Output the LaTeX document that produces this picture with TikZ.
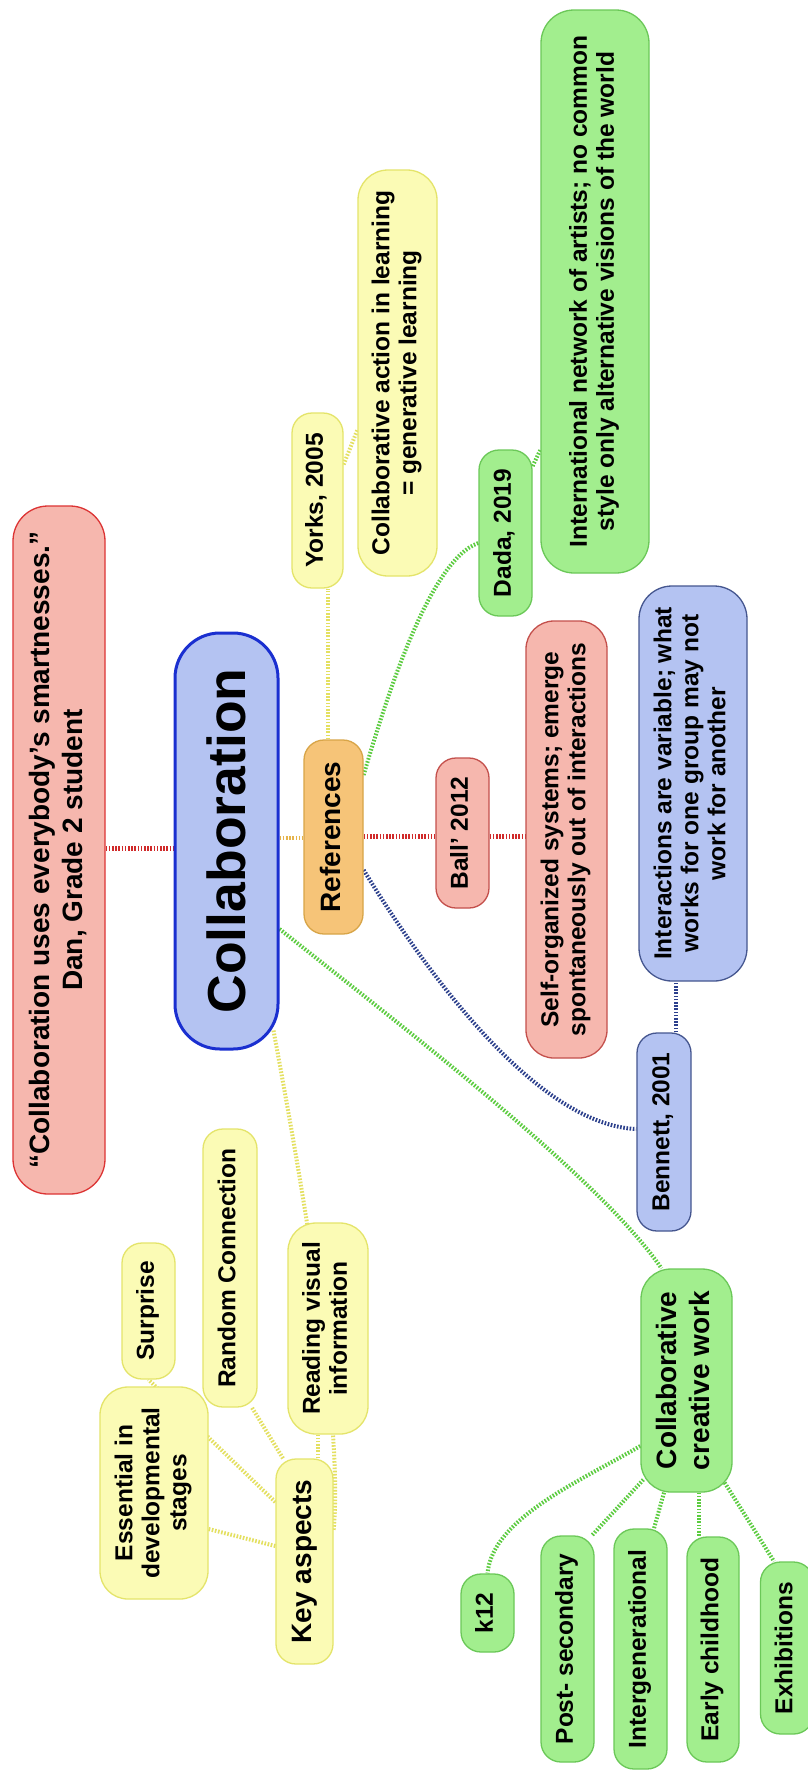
\documentclass[tikz,border=0pt]{standalone}
\usepackage{fontspec}
\setmainfont{Liberation Sans}
\pgfdeclarelayer{paper}
\pgfdeclarelayer{bg}
\pgfsetlayers{paper,bg,main}
\definecolor{pinkfill}{HTML}{F6B7AE}
\definecolor{pinkline}{HTML}{C4504C}
\definecolor{quoteline}{HTML}{DC3434}
\definecolor{bluefill}{HTML}{B4C3F2}
\definecolor{blueline}{HTML}{45568F}
\definecolor{centerline}{HTML}{1A2FD0}
\definecolor{orangefill}{HTML}{F6C478}
\definecolor{orangeline}{HTML}{D8A548}
\definecolor{yellowfill}{HTML}{FBFBB5}
\definecolor{yellowline}{HTML}{E4E46A}
\definecolor{greenfill}{HTML}{A2EE8E}
\definecolor{greenline}{HTML}{6BC858}
\definecolor{linkred}{HTML}{D02A2A}
\definecolor{linkorange}{HTML}{E6B44C}
\definecolor{linkyellow}{HTML}{E4E060}
\definecolor{linkgreen}{HTML}{5CCC40}
\definecolor{linkblue}{HTML}{2B3F8C}
% rotated labels: text runs upward
\newcommand\vsmall[1]{\rotatebox{90}{\fontsize{24.5}{27}\selectfont\bfseries\begin{tabular}{@{}c@{}}#1\end{tabular}}}
\newcommand\vmid[1]{\rotatebox{90}{\fontsize{28}{33}\selectfont\bfseries\begin{tabular}{@{}c@{}}#1\end{tabular}}}
\newcommand\vbig[1]{\rotatebox{90}{\fontsize{53.5}{60}\selectfont\bfseries #1}}
\begin{document}
\begin{tikzpicture}[x=1pt,y=-1pt,
  box/.style={draw, rounded corners=20pt, inner sep=0pt, line width=1.3pt, text=black},
  pinkbox/.style={box, fill=pinkfill, draw=pinkline},
  bluebox/.style={box, fill=bluefill, draw=blueline},
  orangebox/.style={box, fill=orangefill, draw=orangeline},
  yellowbox/.style={box, fill=yellowfill, draw=yellowline},
  greenbox/.style={box, fill=greenfill, draw=greenline},
  link/.style={line width=4pt, dash pattern=on 1.6pt off 1.6pt},
  redlink/.style={link, draw=linkred, line width=5pt},
  orangelink/.style={link, draw=linkorange},
  yellowlink/.style={link, draw=linkyellow},
  greenlink/.style={link, draw=linkgreen},
  bluelink/.style={link, draw=linkblue},
]
\useasboundingbox (0,0) rectangle (808,1770);
\begin{pgfonlayer}{paper}
  \fill[white] (0,0) rectangle (808,1770);
\end{pgfonlayer}

% central topic and its main branches
\node[bluebox, draw=centerline, line width=3pt, rounded corners=45pt, minimum width=103pt, minimum height=416pt] (central) at (226.5,841) {\vbig{Collaboration}};
\node[pinkbox, draw=quoteline, rounded corners=35pt, minimum width=92pt, minimum height=688pt] (quote) at (59,850) {\vmid{“Collaboration uses everybody’s smartnesses.”\\Dan, Grade 2 student}};
\node[orangebox, minimum width=59pt, minimum height=194pt] (refs) at (333.5,837) {\vmid{References}};
\node[greenbox, rounded corners=30pt, minimum width=91pt, minimum height=223pt] (ccw) at (686.5,1380.5) {\vmid{Collaborative\\creative work}};
\node[yellowbox, minimum width=57pt, minimum height=205pt] (keyasp) at (304.5,1561.5) {\vmid{Key aspects}};

% references
\node[yellowbox, minimum width=51pt, minimum height=175pt] (yorks) at (317.5,500.5) {\vsmall{Yorks, 2005}};
\node[yellowbox, rounded corners=30pt, minimum width=79pt, minimum height=406pt] (action) at (397.5,373) {\vsmall{Collaborative action in learning\\= generative learning}};
\node[greenbox, minimum width=53pt, minimum height=166pt] (dada) at (505.5,533) {\vsmall{Dada, 2019}};
\node[greenbox, rounded corners=33pt, minimum width=108pt, minimum height=563pt] (dadadesc) at (595,291.5) {\vsmall{International network of artists; no common\\style only alternative visions of the world}};
\node[pinkbox, minimum width=53pt, minimum height=150pt] (ball) at (462.5,833) {\vsmall{Ball’ 2012}};
\node[pinkbox, rounded corners=28pt, minimum width=81pt, minimum height=437pt] (selforg) at (566.5,839.5) {\vsmall{Self-organized systems; emerge\\spontaneously out of interactions}};
\node[bluebox, rounded corners=33pt, minimum width=108pt, minimum height=395pt] (interact) at (693,783.5) {\vsmall{Interactions are variable; what\\works for one group may not\\work for another}};
\node[bluebox, minimum width=54pt, minimum height=198pt] (bennett) at (664,1132) {\vsmall{Bennett, 2001}};

% collaborative creative work
\node[greenbox, minimum width=53pt, minimum height=78pt] (k12) at (487.5,1613) {\vsmall{k12}};
\node[greenbox, minimum width=53pt, minimum height=226pt] (postsec) at (567.5,1649) {\vsmall{Post- secondary}};
\node[greenbox, minimum width=53pt, minimum height=240pt] (intergen) at (640.5,1649) {\vsmall{Intergenerational}};
\node[greenbox, minimum width=52pt, minimum height=225pt] (early) at (713,1649.5) {\vsmall{Early childhood}};
\node[greenbox, minimum width=53pt, minimum height=172pt] (exhib) at (787,1648) {\vsmall{Exhibitions}};

% key aspects
\node[yellowbox, rounded corners=28pt, minimum width=108pt, minimum height=212pt] (essential) at (154,1493) {\vsmall{Essential in\\developmental\\stages}};
\node[yellowbox, minimum width=53pt, minimum height=136pt] (surprise) at (148.5,1311) {\vsmall{Surprise}};
\node[yellowbox, minimum width=54pt, minimum height=278pt] (random) at (230,1268) {\vsmall{Random Connection}};
\node[yellowbox, rounded corners=28pt, minimum width=80pt, minimum height=211pt] (reading) at (328,1328.5) {\vsmall{Reading visual\\information}};

\begin{pgfonlayer}{bg}
  % central topic links
  \draw[redlink] ([yshift=2pt]quote.east) -- ([yshift=-7pt]central.west);
  \draw[orangelink] ([yshift=3pt]central.east) -- ([yshift=-1pt]refs.west);
  \draw[greenlink] ([yshift=-88pt]central.east) .. controls +(140,111) and +(-61,-89) .. ([xshift=-25pt]ccw.north);
  \draw[yellowlink] ([xshift=-6pt,yshift=20pt]central.south east) .. controls +(28,151) and +(10,-110) .. ([yshift=31.5pt]keyasp.east);
  % references
  \draw[redlink] ([yshift=1pt]refs.east) -- ([yshift=-3pt]ball.west);
  \draw[redlink] ([yshift=-3pt]ball.east) -- ([yshift=3.5pt]selforg.west);
  \draw[yellowlink] ([xshift=-5.5pt]refs.north) -- ([xshift=10.5pt]yorks.south);
  \draw[yellowlink] ([yshift=36pt]yorks.east) -- ([yshift=-57pt]action.west);
  \draw[greenlink] ([yshift=62pt]refs.east) .. controls +(22,-75) and +(-49,17) .. ([yshift=-10pt]dada.west);
  \draw[greenlink] ([yshift=67pt]dada.east) -- ([yshift=-158.5pt]dadadesc.west);
  \draw[bluelink] ([yshift=-33pt]refs.east) .. controls +(67,110) and +(-97,-4) .. ([yshift=3pt]bennett.west);
  \draw[bluelink] ([xshift=12pt]bennett.north) -- ([xshift=-17pt]interact.south);
  % key aspects
  \draw[yellowlink] ([yshift=15.5pt]keyasp.west) -- ([yshift=-36pt]essential.east);
  \draw[yellowlink] ([yshift=59.5pt]keyasp.west) -- (surprise.south);
  \draw[yellowlink] ([xshift=-21.5pt]keyasp.north) -- ([xshift=22pt]random.south);
  \draw[yellowlink] ([xshift=13.5pt]keyasp.north) -- ([xshift=-10pt]reading.south);
  % collaborative creative work
  \draw[greenlink] ([yshift=-65.5pt]ccw.west) .. controls +(-60,35) and +(5,-55) .. (k12.north);
  \draw[greenlink] ([xshift=3pt,yshift=13pt]ccw.south west) -- ([xshift=24.5pt]postsec.north);
  \draw[greenlink] ([xshift=-22.5pt]ccw.south) -- ([xshift=13.5pt]intergen.north);
  \draw[greenlink] ([xshift=12.5pt]ccw.south) -- ([xshift=-14pt]early.north);
  \draw[greenlink] ([xshift=-8pt,yshift=10pt]ccw.south east) -- ([xshift=-13pt]exhib.north);
\end{pgfonlayer}
\end{tikzpicture}
\end{document}
